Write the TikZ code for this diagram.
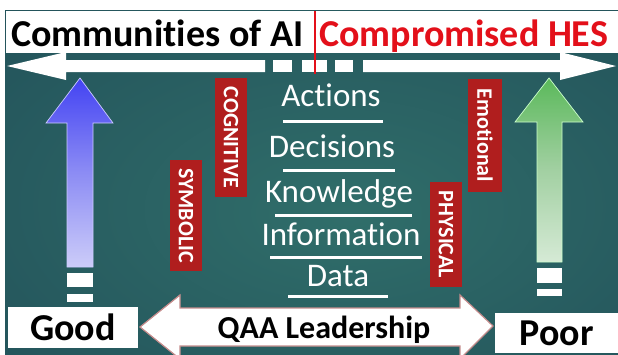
\documentclass[tikz,border=0pt]{standalone}
\usepackage{fontspec}
\setmainfont{Carlito}[Ligatures=NoCommon]

% palette
\definecolor{bgin}{HTML}{306E6A}
\definecolor{bgmid}{HTML}{25575D}
\definecolor{bgout}{HTML}{163848}
\definecolor{tagred}{HTML}{B01E1E}
\definecolor{titlered}{HTML}{E3101A}
\definecolor{qaaedge}{HTML}{C48C8C}
\definecolor{blueA}{HTML}{1010F2}
\definecolor{blueB}{HTML}{4040F2}
\definecolor{blueC}{HTML}{8C8CF4}
\definecolor{blueD}{HTML}{E6E6FB}
\definecolor{greenA}{HTML}{22A022}
\definecolor{greenB}{HTML}{58B858}
\definecolor{greenC}{HTML}{A2D0A2}
\definecolor{greenD}{HTML}{EAF4EA}

% teal backdrop, brightest a little right of and below the middle
\pgfdeclareradialshading{tealglow}{\pgfpoint{3bp}{-5bp}}{%
  color(0bp)=(bgin); color(32bp)=(bgmid); color(75bp)=(bgout)}
% fading fills for the two upright arrows (0bp = bottom)
\pgfdeclareverticalshading{bluefade}{100bp}{%
  color(0bp)=(white); color(15bp)=(blueD); color(50bp)=(blueC);
  color(76bp)=(blueB); color(100bp)=(blueA)}
\pgfdeclareverticalshading{greenfade}{100bp}{%
  color(0bp)=(white); color(15bp)=(greenD); color(50bp)=(greenC);
  color(76bp)=(greenB); color(100bp)=(greenA)}

\begin{document}
\begin{tikzpicture}[x=1pt,y=-1pt,
  titlefont/.style={font=\fontsize{38}{40}\selectfont\bfseries},
  tag/.style={fill=tagred, text=white, rotate=-90, inner sep=0pt,
    minimum height=32pt, font=\fontsize{22}{22}\selectfont\bfseries},
  layer/.style={text=white, anchor=base, inner sep=0pt,
    font=\fontsize{33}{33}\selectfont},
  layerrule/.style={white, line width=3pt},
  endbox/.style={fill=white, inner sep=0pt, text=black,
    font=\fontsize{38}{38}\selectfont\bfseries},
  dashbar/.style={fill=white},
]
\useasboundingbox (0,0) rectangle (618,354);
\clip (0,0) rectangle (618,354);
\fill[white] (0,0) rectangle (618,354);
\shade[shading=tealglow] (5,10) rectangle (618,354);

% title strip
\node[fill=white, inner sep=0pt, minimum width=612pt, minimum height=42pt,
  anchor=north west] (titlebar) at (6,11) {};
\node[titlefont, anchor=base west, inner sep=0pt] (ai) at (11,46) {Communities of AI};
\node[titlefont, text=titlered, anchor=base west, inner sep=0pt] (hes) at (319,46) {Compromised HES};

% long two-way arrow under the title, broken into dashes in the middle
\fill[white] (7,66) -- (66,52) -- (66,60) -- (265,60) -- (265,72)
  -- (66,72) -- (66,80) -- cycle;
\fill[dashbar] (273,60) rectangle (292,72);
\fill[dashbar] (302,60) rectangle (327,72);
\fill[dashbar] (335,60) rectangle (353,72);
\fill[white] (616,66) -- (560,52) -- (560,60) -- (363,60) -- (363,72)
  -- (560,72) -- (560,80) -- cycle;

% red divider between the two headings
\coordinate (divtop) at (315,11);
\coordinate (divbot) at (315,74);
\draw[titlered, line width=2.5pt] (divtop) -- (divbot);

% upright arrows
\shadedraw[shading=bluefade, draw=white!80!blue, line width=0.7pt]
  (80,78) -- (113,123) -- (93,123) -- (93,267) -- (67,267) -- (67,123)
  -- (46,123) -- cycle;
\fill[dashbar] (67,273) rectangle (93,287);
\fill[dashbar] (67,294) rectangle (93,302);

\shadedraw[shading=greenfade, draw=white!80!green, line width=0.7pt]
  (549,78) -- (583,122) -- (562,122) -- (562,262) -- (537,262) -- (537,122)
  -- (515,122) -- cycle;
\fill[dashbar] (537,268) rectangle (562,283);
\fill[dashbar] (537,289) rectangle (562,296);

% red side tags
\node[tag, minimum width=119pt] (cognitive) at (231,137.5) {COGNITIVE};
\node[tag, minimum width=111pt] (symbolic) at (186,215.5) {SYMBOLIC};
\node[tag, minimum width=105pt] (physical) at (446,234.5) {PHYSICAL};
\node[tag, minimum width=113pt, minimum height=34pt] (emotional) at (485,135.5) {Emotional};

% the layered stack
\node[layer] (actions) at (331,106) {Actions};
\draw[layerrule] (283,121) -- (383,121);
\node[layer] (decisions) at (332,157) {Decisions};
\draw[layerrule] (283,170) -- (395,170);
\node[layer] (knowledge) at (339,202) {Knowledge};
\draw[layerrule] (275,215) -- (412,215);
\node[layer] (information) at (341,245) {Information};
\draw[layerrule] (270,257) -- (422,257);
\node[layer] (data) at (338,286) {Data};
\draw[layerrule] (288,296) -- (388,296);

% end boxes
\node[endbox, minimum width=130pt, minimum height=41pt] (good) at (73,327.5) {Good};
\node[endbox, minimum width=123pt, minimum height=40pt] (poor) at (556.5,333) {Poor};

% leadership arrow between the end boxes
\filldraw[fill=white, draw=qaaedge, line width=1.2pt]
  (140,327) -- (180,295) -- (180,308) -- (460,308) -- (460,295)
  -- (493,326) -- (460,359) -- (460,346) -- (180,346) -- (180,359) -- cycle;
\node[anchor=base, inner sep=0pt, font=\fontsize{32}{32}\selectfont\bfseries]
  (qaa) at (324,338) {QAA Leadership};
\end{tikzpicture}
\end{document}
